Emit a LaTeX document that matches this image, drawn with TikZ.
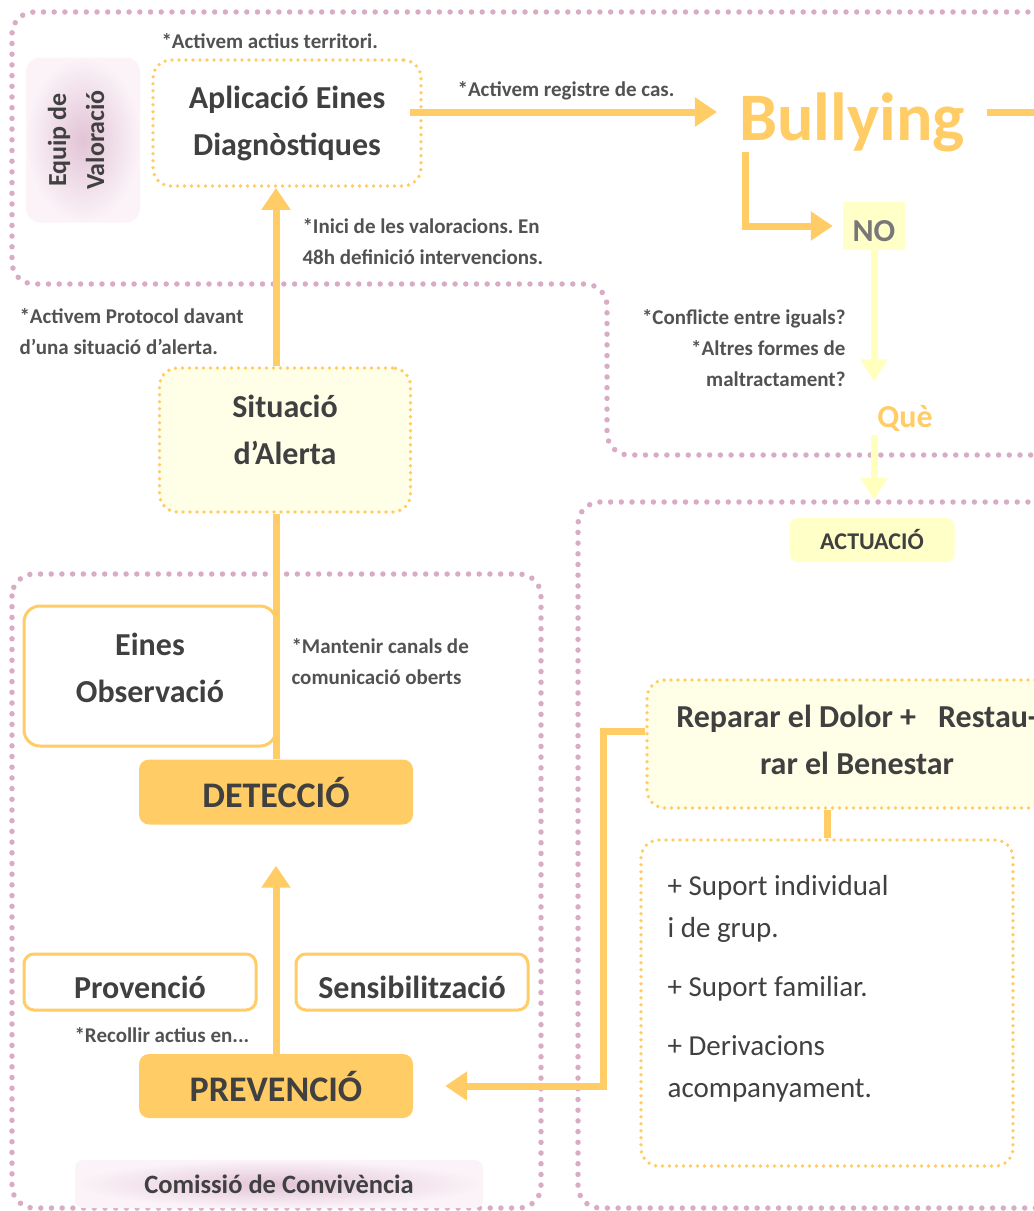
\documentclass[tikz,border=0pt]{standalone}
\usepackage{fontspec}
\setmainfont{Carlito}
\usetikzlibrary{arrows.meta,positioning}

\definecolor{taronja}{RGB}{255,204,102}
\definecolor{groc}{RGB}{255,255,200}
\definecolor{grocclar}{RGB}{255,255,232}
\definecolor{grocfort}{RGB}{255,255,190}
\definecolor{rosa}{RGB}{217,172,198}
\definecolor{rosafort}{RGB}{226,196,214}
\definecolor{rosaclar}{RGB}{251,243,248}
\definecolor{gris}{RGB}{64,64,64}
\definecolor{grisnota}{RGB}{82,82,82}
\definecolor{grisno}{RGB}{120,120,120}

\frenchspacing
\begin{document}
\begin{tikzpicture}[x=1pt,y=-1pt,
  zona/.style={draw=rosa, line width=5.5pt, dash pattern=on 0pt off 10.7pt, line cap=round, rounded corners=22pt},
  puntejat/.style={draw=taronja, line width=3.8pt, dash pattern=on 0pt off 7pt, line cap=round, rounded corners=18pt},
  caixa/.style={draw=taronja, line width=3pt, rounded corners=16pt, fill=white},
  fase/.style={fill=taronja, rounded corners=10pt, text=gris, font=\fontsize{36}{40}\selectfont\bfseries},
  titol/.style={text=gris, align=center, font=\fontsize{32}{47}\selectfont\bfseries},
  nota/.style={text=grisnota, font=\fontsize{21}{31}\selectfont\bfseries},
  rosat/.style={rounded corners=14pt, inner color=rosafort, outer color=rosaclar, text=gris},
  fletxa/.style={draw=taronja, line width=7pt, -{Triangle[length=22pt,width=28pt]}},
  fletxagroc/.style={draw=grocfort, line width=7pt, -{Triangle[length=22pt,width=26pt]}},
  linia/.style={draw=taronja, line width=7pt}]
  \useasboundingbox (0,0) rectangle (1034,1211);
  \clip (0,0) rectangle (1034,1211);

  % zones
  \draw[zona] (1060,12) -- (12,12) -- (12,284) -- (607,284) -- (607,455) -- (1060,455);
  \draw[zona] (12,574) rectangle (541,1208);
  \draw[zona] (1060,502) -- (578,502) -- (578,1208) -- (1060,1208);

  % valoracio
  \node[rosat, rotate=90, minimum width=165pt, minimum height=114pt, align=center, text depth=14pt,
        font=\fontsize{26}{38}\selectfont\bfseries] (equip) at (83,140) {Equip de\\Valoració};
  \node[puntejat, titol, minimum width=268pt, minimum height=126pt] (eines) at (287,123) {Aplicació Eines\\Diagnòstiques};
  \node[titol, text=taronja, font=\fontsize{68}{72}\selectfont\bfseries, inner xsep=22pt, inner ysep=0pt, anchor=base] (bullying) at (852,140) {Bullying};
  \node[titol, fill=groc, text=grisno, minimum width=62pt, minimum height=48pt, text height=31pt, text depth=0pt] (no) at (874,226) {NO};
  \node[titol, text=taronja] (que) at (905,418) {Què};
  \node[fill=groc, rounded corners=8pt, minimum width=165pt, minimum height=44pt, text=gris,
        font=\fontsize{24}{28}\selectfont\bfseries] (actuacio) at (872,540) {ACTUACIÓ};
  \node[puntejat, titol, fill=grocclar, minimum width=251pt, minimum height=144pt, text depth=20pt] (alerta) at (285,440) {Situació\\d’Alerta};

  % deteccio i prevencio
  \node[caixa, titol, minimum width=252pt, minimum height=140pt, text depth=16pt] (observacio) at (150,676) {Eines\\Observació};
  \node[fase, minimum width=274pt, minimum height=65pt] (deteccio) at (276,792) {DETECCIÓ};
  \node[caixa, titol, rounded corners=10pt, minimum width=232pt, minimum height=56pt, text height=34pt, text depth=2pt] (provencio) at (140,982) {Provenció};
  \node[caixa, titol, rounded corners=10pt, minimum width=232pt, minimum height=56pt, text height=34pt, text depth=2pt] (sensibilitzacio) at (412,982) {Sensibilització};
  \node[fase, minimum width=274pt, minimum height=64pt] (prevencio) at (276,1086) {PREVENCIÓ};
  \node[rosat, rounded corners=8pt, minimum width=408pt, minimum height=48pt,
        font=\fontsize{26.5}{30}\selectfont\bfseries] (comissio) at (279,1184) {Comissió de Convivència};

  % actuacio
  \node[puntejat, titol, fill=grocclar, minimum width=420pt, minimum height=128pt, text depth=8pt] (reparar) at (857,744) {Reparar el Dolor +\hspace{22pt}Restau-\\rar el Benestar};
  \node[puntejat, minimum width=372pt, minimum height=326pt] (suport) at (827,1003) {};
  \node[anchor=north west, align=left, text=gris, font=\fontsize{29}{42}\selectfont] (accions)
        at ([shift={(25pt,-34pt)}]suport.north west) {+ Suport individual\\i de grup.\\[17pt]+ Suport familiar.\\[17pt]+ Derivacions\\acompanyament.};

  % notes
  \node[nota, anchor=west] (territori) at (158,41) {*Activem actius territori.};
  \node[nota] (registre) at (566,91) {*Activem registre de cas.};
  \node[nota, anchor=west, align=left] (valoracions) at (299,242) {*Inici de les valoracions. En\\48h definició intervencions.};
  \node[nota, anchor=west, align=left] (protocol) at (16,332) {*Activem Protocol davant\\d’una situació d’alerta.};
  \node[nota, anchor=east, align=right] (conflicte) at (849,348) {*Conflicte entre iguals?\\*Altres formes de\\maltractament?};
  \node[nota, anchor=west, align=left] (canals) at (288,662) {*Mantenir canals de\\comunicació oberts};
  \node[nota, anchor=west] (recollir) at (71,1035) {*Recollir actius en...};

  % connectors
  \coordinate (eixA) at ([yshift=11pt]eines.east);
  \draw[fletxa] ([xshift=-13pt]eixA) -- (eixA -| bullying.west);
  \draw[linia] (eixA -| bullying.east) -- ++(80,0);
  \draw[fletxa, shorten >=10pt] ([xshift=29pt]bullying.south west) |- (no.west);
  \draw[fletxagroc, shorten >=20pt] (no.south) -- (no.south |- que.north);
  \draw[fletxagroc, shorten >=18pt] (que.south -| no.south) -- (no.south |- actuacio.north);
  \draw[fletxa] (alerta.north -| deteccio.north) -- (eines.south -| deteccio.north);
  \draw[linia] (deteccio.north) -- (deteccio.north |- alerta.south);
  \draw[fletxa] (prevencio.north) -- ([yshift=-41pt]deteccio.south);
  \draw[fletxa] ([yshift=13pt]reparar.west) -- ++(-42,0) |- ([xshift=32pt]prevencio.east);
  \draw[linia] (suport.north |- reparar.south) -- (suport.north);
\end{tikzpicture}
\end{document}
